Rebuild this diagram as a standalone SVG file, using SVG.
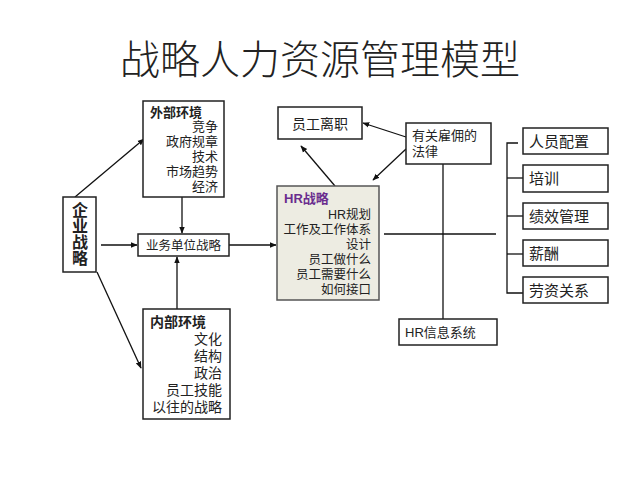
<svg xmlns="http://www.w3.org/2000/svg" width="640" height="480" viewBox="0 0 640 480">
<defs>
<style>
text{font-family:"Liberation Sans","Noto Sans CJK SC",sans-serif;fill:#222;}
.box{fill:#fff;stroke:#222;stroke-width:1.5;}
.hr{fill:#EDECE2;stroke:#555;stroke-width:1.5;}
.t13{font-size:13px;}
.t12{font-size:12.5px;}
.t14{font-size:14px;}
.t15{font-size:15px;}
.b{font-weight:bold;}
.r{text-anchor:end;}
.c{text-anchor:middle;}
.ln{stroke:#111;stroke-width:1.3;fill:none;}
.ar{stroke:#111;stroke-width:1.3;fill:none;marker-end:url(#ah);}
</style>
<marker id="ah" viewBox="0 0 10 10" refX="9" refY="5" markerWidth="7" markerHeight="7" orient="auto" markerUnits="userSpaceOnUse">
<path d="M0,1 L10,5 L0,9 z" fill="#111"/>
</marker>
</defs>
<rect width="640" height="480" fill="#fff"/>
<text x="320" y="74" class="c" style="font-size:40px;font-weight:300;font-family:'Noto Sans CJK SC',sans-serif">战略人力资源管理模型</text>

<g id="connectors">
<line class="ar" x1="75" y1="197" x2="144" y2="139"/>
<line class="ar" x1="97" y1="272" x2="141" y2="368"/>
<line class="ar" x1="101" y1="245" x2="137" y2="245"/>
<line class="ar" x1="182" y1="197" x2="182" y2="233"/>
<line class="ar" x1="177" y1="309" x2="177" y2="257"/>
<line class="ar" x1="229" y1="245" x2="276" y2="245"/>
<line class="ar" x1="335" y1="186" x2="301" y2="146"/>
<line class="ar" x1="406" y1="137" x2="363" y2="123"/>
<line class="ar" x1="406" y1="149" x2="373" y2="180"/>
<line class="ln" x1="443" y1="164" x2="443" y2="319"/>
<line class="ln" x1="384" y1="234" x2="496" y2="234"/>
<polyline class="ln" points="518,143 507,143 507,293 523,293"/>
<line class="ln" x1="507" y1="178" x2="523" y2="178"/>
<line class="ln" x1="507" y1="216" x2="523" y2="216"/>
<line class="ln" x1="507" y1="254" x2="523" y2="254"/>
</g>

<g id="qiye">
<rect class="box" x="63" y="197" width="33" height="75"/>
<text x="80" y="202" class="b" style="font-size:16px;writing-mode:vertical-rl;font-family:'Noto Sans CJK SC',sans-serif">企业战略</text>
</g>

<g id="waibu">
<rect class="box" x="143" y="101" width="81" height="96"/>
<text class="t13"><tspan x="150" y="117" class="b">外部环境</tspan><tspan x="218" y="131" class="r">竞争</tspan><tspan x="218" y="146" class="r">政府规章</tspan><tspan x="218" y="161" class="r">技术</tspan><tspan x="218" y="176" class="r">市场趋势</tspan><tspan x="218" y="191" class="r">经济</tspan></text>
</g>

<g id="yewu">
<rect class="box" x="138" y="234" width="91" height="22"/>
<text x="183.5" y="250" class="t12 c">业务单位战略</text>
</g>

<g id="neibu">
<rect class="box" x="143" y="309" width="87" height="110"/>
<text class="t14"><tspan x="150" y="327" class="b">内部环境</tspan><tspan x="222" y="344" class="r">文化</tspan><tspan x="222" y="361" class="r">结构</tspan><tspan x="222" y="378" class="r">政治</tspan><tspan x="222" y="395" class="r">员工技能</tspan><tspan x="222" y="412" class="r">以往的战略</tspan></text>
</g>

<g id="lizhi">
<rect class="box" x="278" y="107" width="84" height="32"/>
<text x="320" y="129" class="t14 c">员工离职</text>
</g>

<g id="falv">
<rect class="box" x="406" y="123" width="85" height="41"/>
<text class="t13"><tspan x="412" y="140">有关雇佣的</tspan><tspan x="412" y="156">法律</tspan></text>
</g>

<g id="hrzl">
<rect class="hr" x="277" y="186" width="102" height="114"/>
<text class="t12"><tspan x="284" y="203" class="b" style="fill:#6A2C8E;font-size:13px">HR战略</tspan><tspan x="371" y="219" class="r">HR规划</tspan><tspan x="371" y="234" class="r">工作及工作体系</tspan><tspan x="371" y="249" class="r">设计</tspan><tspan x="371" y="264" class="r">员工做什么</tspan><tspan x="371" y="279" class="r">员工需要什么</tspan><tspan x="371" y="294" class="r">如何接口</tspan></text>
</g>

<g id="hrxx">
<rect class="box" x="399" y="319" width="98" height="26"/>
<text x="405" y="337" class="t13">HR信息系统</text>
</g>

<g id="peizhi">
<rect class="box" x="523" y="128" width="85" height="26"/>
<text x="529" y="147" class="t15">人员配置</text>
</g>
<g id="peixun">
<rect class="box" x="523" y="165" width="85" height="27"/>
<text x="529" y="184" class="t15">培训</text>
</g>
<g id="jixiao">
<rect class="box" x="523" y="203" width="85" height="26"/>
<text x="529" y="222" class="t15">绩效管理</text>
</g>
<g id="xinchou">
<rect class="box" x="523" y="240" width="85" height="26"/>
<text x="529" y="259" class="t15">薪酬</text>
</g>
<g id="laozi">
<rect class="box" x="523" y="277" width="85" height="26"/>
<text x="529" y="296" class="t15">劳资关系</text>
</g>
</svg>
